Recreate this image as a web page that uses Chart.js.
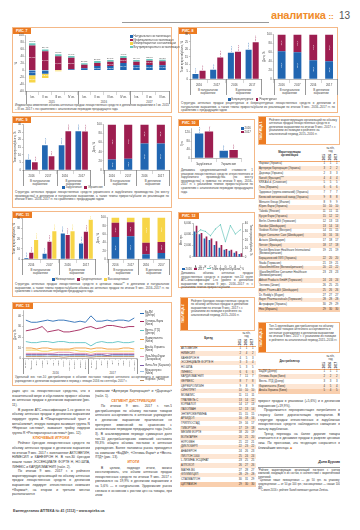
<!DOCTYPE html>
<html lang="ru">
<head>
<meta charset="utf-8">
<title>Аналитика 13</title>
<script src="https://cdn.jsdelivr.net/npm/chart.js@4.4.1/dist/chart.umd.min.js"></script>
<style>
  html, body { margin: 0; padding: 0; }
  body { width: 360px; height: 530px; position: relative; overflow: hidden; background: #fff;
         font-family: "Liberation Sans", Arial, sans-serif; color: #3a3a3a; }
  .box { position: absolute; border: 1px solid #f4b887; box-sizing: border-box; }
  .tag { position: absolute; left: 0; top: 0; height: 6px; padding: 0 3px; background: #ec7b22; color: #fff;
         font: bold 3.6px/6px "Liberation Sans", Arial, sans-serif; }
  .cap { position: absolute; font-size: 3px; line-height: 3.6px; color: #444; text-align: justify; }
  canvas { position: absolute; z-index: 2; }
  .grp { position: absolute; font-size: 2.8px; line-height: 3.1px; text-align: center; color: #444; }
  .sep { position: absolute; width: 0; border-left: 0.5px solid #999; }
  .leg { position: absolute; font-size: 2.8px; line-height: 3.4px; color: #444; white-space: nowrap; z-index: 3; }
  .leg i { display: inline-block; width: 2.6px; height: 2.6px; margin-right: 1px; vertical-align: -0.4px; }
  .leg b { display: inline-block; width: 4px; height: 0; border-top: 0.8px solid; margin-right: 1px; vertical-align: 0.8px; }
  .col { position: absolute; font-size: 3.3px; line-height: 4.65px; text-align: justify; color: #333; overflow: hidden; }
  .col p { margin: 0; text-indent: 6px; }
  .col h4 { margin: 0.5px 0 0.5px; font-size: 3.5px; line-height: 4.65px; color: #ec7b22; font-weight: bold; text-align: center; }
  .tdesc { position: absolute; border: 1px solid #f4b887; box-sizing: border-box; }
  .tdesc .vl { position: absolute; left: 0; top: 0; bottom: 0; width: 7px; background: #ec7b22; color: #fff;
               font: bold 3.3px "Liberation Sans", Arial, sans-serif; writing-mode: vertical-rl;
               transform: rotate(180deg); text-align: center; }
  .tdesc .tx { position: absolute; left: 10px; right: 1.5px; top: 1.5px; font-size: 3px; line-height: 3.55px; color: #444; }
  .tbl { position: absolute; font-size: 2.75px; color: #333; }
  .th { display: flex; border-bottom: 0.6px solid #f0a56b; }
  .th .hn { flex: 1; display: flex; align-items: center; justify-content: center; font-weight: bold; text-align: center; line-height: 3.2px; }
  .th .hv { width: 19px; text-align: center; line-height: 3.2px; }
  .th .hv .yrs { display: flex; justify-content: space-around; margin-top: 1px; }
  .th .hv .yrs span { writing-mode: vertical-rl; transform: rotate(180deg); font-weight: bold; }
  .tr { display: flex; line-height: 3.3px; padding: 0.75px 0; }
  #t2 .tr { padding: 0.7px 0; }
  .tr.odd { background: #fde6d4; }
  .tr.last { background: #f9cfae; }
  .tr .tn { flex: 1; padding-left: 1px; }
  .tr .tv { width: 6.33px; text-align: center; }
</style>
</head>
<body>

<!-- шапка -->
<div style="position:absolute;left:122px;top:22px;width:147px;height:0;border-top:0.8px solid #9a9a9a"></div>
<div style="position:absolute;left:271px;top:9px;font:bold 11px/13px 'Liberation Sans',Arial,sans-serif;color:#f08c2a;letter-spacing:-0.2px">аналитика <span style="font-size:8px">::</span></div>
<div style="position:absolute;left:339px;top:10px;font:10px/12px 'Liberation Sans',Arial,sans-serif;color:#555">13</div>

<!-- рис. 7 -->
<div class="box" style="left:12px;top:27px;width:160px;height:86px"><div class="tag">РИС. 7</div></div>
<canvas id="c7" width="156" height="67" style="left:14px;top:33px"></canvas>
<div class="leg" id="l7" style="left:130px;top:35px"></div>
<div class="cap" style="left:15px;top:104px;width:154px">Индикаторы изменения объема аптечных продаж лекарственных средств в денежном выражении в I кв. 2015 – III кв. 2017 г. по сравнению с аналогичным периодом предыдущего года</div>

<!-- рис. 8 -->
<div class="box" style="left:178px;top:27px;width:160px;height:86px"><div class="tag">РИС. 8</div></div>
<canvas id="c8a" width="82" height="56" style="left:180px;top:32px"></canvas>
<canvas id="c8b" width="76" height="56" style="left:262px;top:32px"></canvas>
<div class="leg" id="l8" style="left:228px;top:98px"></div>
<div class="cap" style="left:181px;top:102px;width:154px">Структура аптечных продаж рецептурных и безрецептурных лекарственных средств в денежном и натуральном выражении, а также темпы прироста/убыли их реализации по итогам 9 мес. 2016–2017 гг. по сравнению с предыдущим годом</div>

<!-- рис. 9 -->
<div class="box" style="left:12px;top:116px;width:160px;height:92px"><div class="tag">РИС. 9</div></div>
<canvas id="c9a" width="78" height="57" style="left:13px;top:122px"></canvas>
<canvas id="c9b" width="78" height="57" style="left:92px;top:122px"></canvas>
<div class="leg" id="l9" style="left:62px;top:186px"></div>
<div class="cap" style="left:15px;top:191px;width:154px">Структура аптечных продаж лекарственных средств украинского и зарубежного производства (по месту производства) в денежном и натуральном выражении, а также темпы прироста/убыли их реализации по итогам 9 мес. 2016–2017 гг. по сравнению с предыдущим годом</div>

<!-- рис. 10 -->
<div class="box" style="left:178px;top:119px;width:77px;height:80px"><div class="tag">РИС. 10</div></div>
<canvas id="c10" width="62" height="41" style="left:180px;top:126px"></canvas>
<div class="leg" id="l10" style="left:241px;top:127px"></div>
<div class="cap" style="left:181px;top:169px;width:72px">Динамика средневзвешенной стоимости 1 упаковки лекарственных средств отечественного и зарубежного производства (по месту производства) в гривнах по итогам 9 мес. 2016–2017 гг. с указанием темпов прироста/убыли по сравнению с аналогичным периодом предыдущего года</div>

<!-- таблица 1 -->
<div class="tdesc" style="left:258px;top:116px;width:82px;height:29px">
  <div class="vl">ТАБЛИЦА 1</div>
  <div class="tx">Рейтинг маркетирующих организаций по объему аптечных продаж лекарственных средств в денежном выражении по итогам 9 мес. 2017 г. с указанием их позиции в рейтинге за аналогичный период 2015–2016 гг.</div>
</div>
<div class="tbl" id="t1" style="left:258px;top:147px;width:82px">
  <div class="th"><div class="hn">Маркетирующая<br>организация</div><div class="hv">№ п/п,<br>год<div class="yrs"><span>2015</span><span>2016</span><span>2017</span></div></div></div>
</div>

<!-- рис. 11 -->
<div class="box" style="left:12px;top:211px;width:160px;height:86px"><div class="tag">РИС. 11</div></div>
<canvas id="c11a" width="84" height="52" style="left:12px;top:216px"></canvas>
<canvas id="c11b" width="74" height="53" style="left:96px;top:215px"></canvas>
<div class="leg" id="l11" style="left:52px;top:278px"></div>
<div class="cap" style="left:15px;top:283px;width:154px">Структура аптечных продаж лекарственных средств в ценовых нишах** в денежном и натуральном выражении, а также темпы прироста/убыли объема их аптечных продаж по итогам 9 мес. 2016–2017 гг. по сравнению с аналогичным периодом предыдущего года</div>

<!-- рис. 12 -->
<div class="box" style="left:178px;top:212px;width:77px;height:76px"><div class="tag">РИС. 12</div></div>
<canvas id="c12" width="75" height="50" style="left:179px;top:219px"></canvas>
<div class="leg" id="l12" style="left:182px;top:267.5px"></div>
<div class="cap" style="left:181px;top:272px;width:72px">Динамика объема аптечных продаж лекарственных средств в разрезе топ-10 групп АТС-классификации 1-го уровня в денежном выражении по итогам 9 мес. 2016–2017 гг. с указанием темпов прироста/убыли</div>

<!-- рис. 13 -->
<div class="box" style="left:12px;top:302px;width:160px;height:84px"><div class="tag">РИС. 13</div></div>
<canvas id="c13" width="125" height="63" style="left:13px;top:308px"></canvas>
<div class="leg" id="l13" style="left:140px;top:311px;white-space:normal;width:31px;line-height:3.1px"></div>
<div class="cap" style="left:15px;top:376px;width:154px">Удельный вес топ-10 дистрибьюторов в объеме поставок товаров аптечного ассортимента в аптечные учреждения в денежном выражении в период с января 2016 по сентябрь 2017 г.</div>

<!-- таблица 2 -->
<div class="tdesc" style="left:180px;top:297px;width:75px;height:34px">
  <div class="vl">ТАБЛИЦА 2</div>
  <div class="tx">Рейтинг брендов лекарственных средств по объему аптечных продаж в денежном выражении по итогам 9 мес. 2017 г. с указанием их позиции в рейтинге за аналогичный период 2015–2016 гг.</div>
</div>
<div class="tbl" id="t2" style="left:180px;top:332px;width:76px">
  <div class="th"><div class="hn">Бренд</div><div class="hv">№ п/п,<br>год<div class="yrs"><span>2015</span><span>2016</span><span>2017</span></div></div></div>
</div>

<!-- таблица 3 -->
<div class="tdesc" style="left:258px;top:322px;width:82px;height:31px">
  <div class="vl">ТАБЛИЦА 3</div>
  <div class="tx">Топ-5 крупнейших дистрибьюторов по объему поставок товаров аптечного ассортимента в аптечные учреждения в денежном выражении по итогам 9 мес. 2017 г. с указанием их позиции в рейтинге за аналогичный период 2015–2016 гг.</div>
</div>
<div class="tbl" id="t3" style="left:258px;top:355px;width:82px">
  <div class="th"><div class="hn">Дистрибьютор</div><div class="hv">№ п/п,<br>год<div class="yrs"><span>2015</span><span>2016</span><span>2017</span></div></div></div>
</div>

<!-- текст -->
<div class="col" style="left:12px;top:389px;width:78px;height:117px">
  <p style="text-indent:0">ущих цен на лекарственные средства, что в значительной мере и обусловило прирост объема их аптечных продаж в денежном выражении (рис. 11).</p>
  <p>В разрезе АТС-классификации 1-го уровня по объему аптечных продаж в денежном выражении лидирует группа A «Пищеварительный тракт и метаболизм», вторую позицию занимает группа N «Нервная система», замыкает тройку лидеров группа R «Респираторная система» (рис. 12).</p>
  <h4>КЛЮЧЕВЫЕ ИГРОКИ</h4>
  <p>Рейтинг брендов лекарственных средств по объему аптечных продаж в денежном выражении по итогам 9 мес. 2017 г. возглавляют АКТОВЕГИН, НИМЕСИЛ и КАНЕФРОН Н. В топ-30 брендов вошли также ЭССЕНЦИАЛЕ ФОРТЕ Н, НО-ШПА, ЛИНЕКС и КАРДИОМАГНИЛ (табл. 2).</p>
  <p>По итогам 9 мес. 2017 г. в рейтинге маркетирующих организаций по объему аптечных продаж лекарственных средств в денежном выражении лидирует отечественная компания «Фармак», на втором и третьем местах располагаются</p>
</div>
<div class="col" style="left:95px;top:389px;width:77px;height:117px">
  <p style="text-indent:0">компании «Артериум Корпорация» и «Дарница» (табл. 1).</p>
  <h4>СЕГМЕНТ ДИСТРИБУЦИИ</h4>
  <p>По итогам 9 мес. 2017 г. топ-5 дистрибьюторов по объему поставок товаров аптечного ассортимента в аптечные учреждения в денежном выражении практически не претерпел изменений по сравнению с аналогичным периодом предыдущего года (табл. 3). В анализируемом периоде суммарная доля топ-10 дистрибьюторских компаний составила 93,3% общего объема поставок в аптечные учреждения. Более половины рынка приходится на компании «БаДМ», «Оптима-Фарм» и «Вента. ЛТД» (рис. 13).</p>
  <h4>ИТОГИ</h4>
  <p>В целом, подводя итоги, можно констатировать, что объем аптечных продаж лекарственных средств по итогам 9 мес. 2017 г. увеличился на 19,9% в денежном выражении и на 5,6% — в натуральном. Удорожание рынка связано в основном с ростом цен на товары, при этом</p>
</div>
<div class="col" style="left:258px;top:399px;width:82px;height:60px">
  <p style="text-indent:0">прирост продаж в упаковках (+5,6%) и в денежном выражении (+19,9%).</p>
  <p>Продолжается переориентация потребителя в сторону более дорогостоящих препаратов. В структуре продаж отечественных и зарубежных лекарственных средств наблюдается смещение в пользу зарубежных.</p>
  <p>Тренд перехода на более дорогие товары отмечается и в динамике продаж в разрезе ценовых ниш. По прогнозам, эта тенденция сохранится в ближайшие месяцы. <span style="color:#ec7b22">■</span></p>
</div>
<div style="position:absolute;left:300px;top:460px;width:40px;text-align:right;font:italic bold 3.4px 'Liberation Sans',Arial,sans-serif;color:#333">Дина Бурова</div>
<div class="col" style="left:258px;top:467px;width:82px;height:34px;font-size:2.6px;line-height:3.4px;border-top:0.5px solid #999;padding-top:1px">
  <p style="text-indent:0">*Рейтинг маркетирующих организаций построен с учетом компаний, входящих в их состав, в соответствии с маркетинговой политикой.</p>
  <p style="text-indent:0">**Ценовые ниши: низкоценовая — до 50 грн. за упаковку; среднеценовая — от 50 до 100 грн.; высокоценовая — свыше 100 грн.</p>
  <p style="text-indent:0">***С июля 2016 г. рейтинг Sanofi включает данные Zentiva.</p>
</div>
<div style="position:absolute;left:13px;top:509px;font:bold 3.6px 'Liberation Sans',Arial,sans-serif;color:#444">Еженедельник АПТЕКА № 41 (1112) ▪ www.apteka.ua</div>

<script>
// рис. 7 — индикаторы изменения объема продаж, %
const quarters7 = ['I кв.', 'II кв.', 'III кв.', 'IV кв.', 'I кв.', 'II кв.', 'III кв.', 'IV кв.', 'I кв.', 'II кв.', 'III кв.'];
const years7 = ['2015', '2016', '2017'];
const series7 = ['Натуральная составляющая', 'Инфляционная составляющая', 'Межпрепаратная составляющая', 'Внутрипрепаратная составляющая'];
const natural7 = [-14.6, -10.2, 0, 3.1, 5.4, 12.3, 12.1, 20.4, 14.2, 15.3, 14.1];
const inflation7 = [71.3, 54.6, 40.2, 32.8, 10.1, 8.2, 11.9, 15.1, 10.3, 12.2, 11.4];
const substitution7 = [-20.8, -12.1, -3.2, 0, 0, 0, 0, 0, 0, 0, 0];
const assortment7 = [6.2, 5.1, 5.8, 5.2, 4.8, 6.0, 5.1, 5.2, 4.9, 5.1, 4.8];

// рис. 8, 9, 11 — общие подписи
const years4 = ['2016', '2017', '2016', '2017'];
const groups4 = ['В натуральном<br>выражении', 'В денежном<br>выражении'];

// рис. 8 — рецептурные / безрецептурные
const series8 = ['Безрецептурные', 'Рецептурные'];
const growthOtc8 = [3.4, 6.2, 17.7, 19.8];
const growthRx8 = [5.5, 14.5, 18.3, 24.7];
const shareOtc8 = [62.1, 60.3, 42.4, 40.2];
const shareRx8 = [37.9, 39.7, 57.6, 59.8];

// рис. 9 — зарубежные / украинские
const series9 = ['Зарубежные', 'Украинские'];
const growthForeign9 = [6.8, 16.4, 16.4, 25.5];
const growthLocal9 = [5.2, 9.0, 25.5, 25.3];
const shareForeign9 = [23.1, 25.0, 58.2, 58.4];
const shareLocal9 = [76.9, 75.0, 41.8, 41.6];

// рис. 10 — стоимость 1 упаковки, грн.
const origin10 = ['Зарубежные', 'Украинские'];
const series10 = ['2016', '2017'];
const cost2016 = [116.4, 34.2];
const cost2017 = [125.5, 38.6];

// рис. 11 — ценовые ниши
const series11 = ['Низкоценовые', 'Среднеценовые', 'Высокоценовые'];
const growthLow11 = [1.0, 5.3, 25.3, 15.3];
const growthMid11 = [6.3, 17.0, 23.7, 27.0];
const growthHigh11 = [18.7, 27.3, 27.3, 38.7];
const shareLow11 = [53.2, 55.1, 11.4, 14.8];
const shareMid11 = [34.1, 33.2, 28.0, 26.3];
const shareHigh11 = [12.7, 11.7, 60.6, 58.9];

// рис. 12 — топ-10 групп АТС, млн грн.
const atc12 = ['A', 'N', 'R', 'C', 'M', 'J', 'G', 'D', 'B', 'L'];
const series12 = ['2016', '2017', 'Темп прироста/убыли, %'];
const sales2016_12 = [4500, 4000, 3250, 3000, 2100, 1600, 1250, 1100, 750, 500];
const sales2017_12 = [5500, 4250, 3600, 3250, 2750, 2100, 1400, 1250, 1000, 650];
const growth12 = [27, 32, 30, 25, 33, 38, 18, 37, 27, 32];

// рис. 13 — доля дистрибьюторов, %
const months13 = ['Январь', 'Февраль', 'Март', 'Апрель', 'Май', 'Июнь', 'Июль', 'Август', 'Сентябрь', 'Октябрь', 'Ноябрь', 'Декабрь',
  'Январь', 'Февраль', 'Март', 'Апрель', 'Май', 'Июнь', 'Июль', 'Август', 'Сентябрь'];
const years13 = ['2016', '2017'];
const distributors13 = ['БаДМ<br>(Днепр)', 'Оптима-Фарм (Киев)', 'Вента. ЛТД<br>(Днепр)', 'Фармпланета (Киев)', 'Альба Украина (Киев)',
  'Фра-Мед-Фарм<br>(Запорожье)', 'Фито-Лек (Харьков)', 'Медэкспресс<br>(Киев)', 'Форлекс (Киев)'];
const badm13 = [36, 34, 34, 35, 36, 35, 36, 36, 35, 34, 35, 34, 40, 35, 35, 36, 35, 36, 36, 35, 38];
const optima13 = [26, 27, 28, 30, 25, 26, 27, 25, 25, 26, 27, 29, 30, 28, 29, 31, 31, 30, 29, 30, 30];
const venta13 = [16, 15, 15, 16, 16, 15, 16, 16, 15, 15, 15, 15, 12, 15, 16, 15, 15, 16, 15, 15, 16];
const farmplaneta13 = [10, 10, 9, 10, 10, 9, 9, 9, 9, 10, 10, 10, 9, 10, 10, 9, 9, 9, 10, 10, 9];
const alba13 = [8, 8, 8, 7, 7, 8, 8, 8, 8, 8, 7, 7, 6, 7, 7, 7, 7, 7, 7, 7, 7];
const framed13 = [5, 5, 5, 5, 5, 5, 6, 6, 6, 5, 5, 5, 4, 5, 5, 5, 5, 5, 5, 5, 5];
const fitolek13 = [4, 4, 4, 4, 4, 4, 4, 4, 4, 4, 4, 4, 3, 4, 4, 3, 4, 4, 4, 4, 4];
const medexpress13 = [3, 3, 3, 3, 2.5, 3, 3, 3, 3, 3, 3, 3, 2.5, 3, 3, 3, 3, 3, 3, 3, 3];
const forleks13 = [2, 2, 2, 2, 2, 2, 2, 1.5, 2, 2, 2, 2, 1.5, 2, 2, 2, 2, 2, 2, 2, 2];

// таблица 1
const marketers = ['Фармак (Украина)', 'Артериум Корпорация (Украина)', 'Дарница (Украина)', 'Sanofi (Франция)***', 'KRKA d.d. (Словения)',
  'Teva (Израиль)', 'Здоровье (группа компаний) (Украина)', 'Киевский витаминный завод (Украина)', 'Menarini Group (Италия)',
  'Юрия-Фарм (Украина)', 'Takeda (Япония)', 'Кусум Фарм (Украина)', 'Berlin-Chemie AG (Германия)', 'Sandoz (Швейцария)',
  'Gedeon Richter (Венгрия)', 'Bayer Consumer Care (Швейцария)', 'Actavis (Швейцария)', 'Servier (Франция)',
  'Reckitt Benckiser Healthcare International (Великобритания)', 'Борщаговский ХФЗ (Украина)', 'Stada (Германия)',
  'GlaxoSmithKline (Великобритания)', 'GlaxoSmithKline Consumer Healthcare (Великобритания)', 'Abbott Products GmbH (Германия)',
  'Зентива (Чехия)', 'Alpen Pharma AG (Швейцария)', 'Dr. Reddy\'s (Индия)', 'Bayer Pharmaceuticals (Германия)', 'Астрафарм (Украина)', 'Нео (Израиль)'];
const rank2015_t1 = [1, 3, 2, 4, 5, 6, 7, 9, 8, 10, 11, 15, 12, 13, 14, 16, 17, 18, 19, 22, 21, 20, 23, 24, 26, 25, 27, 28, 30, 29];
const rank2016_t1 = [1, 2, 3, 4, 5, 6, 7, 8, 9, 10, 11, 12, 13, 14, 15, 16, 18, 17, 21, 20, 19, 22, 23, 24, 25, 26, 27, 28, 29, 30];
const rank2017_t1 = [1, 2, 3, 4, 5, 6, 7, 8, 9, 10, 11, 12, 13, 14, 15, 16, 17, 18, 19, 20, 21, 22, 23, 24, 25, 26, 27, 28, 29, 30];

// таблица 2
const brands = ['АКТОВЕГИН', 'НИМЕСИЛ', 'КАНЕФРОН Н', 'ЭССЕНЦИАЛЕ ФОРТЕ Н', 'НО-ШПА', 'ЛИНЕКС', 'КАРДИОМАГНИЛ', 'ФЕРВЕКС',
  'ЦЕРЕБРОЛИЗИН', 'СИНУПРЕТ', 'МОВАЛИС', 'ТРАУМЕЛЬ С', 'КОРВАЛОЛ', 'ЛАЗОЛВАН', 'ЭНТЕРОЖЕРМИНА', 'АРБИДОЛ', 'ГРИППОСТАД',
  'ТИВОРТИН', 'МЕЗИМ ФОРТЕ', 'ВОЛЬТАРЕН', 'НУРОФЕН', 'ДИКЛОБЕРЛ', 'АНАФЕРОН', 'ЛИОТОН 1000', 'L-ЛИЗИНА ЭСЦИНАТ', 'АЛЛОХОЛ',
  'МАГНЕ-B6', 'ФЛУИМУЦИЛ', 'СПАЗМАЛГОН', 'ЦИТРАМОН'];
const rank2015_t2 = [1, 2, 4, 3, 5, 6, 7, 8, 9, 10, 11, 13, 14, 12, 15, 16, 19, 17, 18, 20, 21, 22, 24, 25, 23, 26, 27, 28, 30, 29];
const rank2016_t2 = [1, 4, 5, 3, 3, 6, 11, 7, 8, 10, 11, 14, 17, 13, 15, 18, 16, 19, 20, 21, 22, 23, 26, 24, 25, 27, 28, 29, 31, 30];
const rank2017_t2 = [1, 2, 3, 4, 5, 6, 7, 8, 9, 10, 11, 12, 13, 14, 15, 16, 17, 18, 19, 20, 21, 22, 23, 24, 25, 26, 27, 28, 29, 30];

// таблица 3
const distributors_t3 = ['БаДМ (Днепр)', 'Оптима-Фарм (Киев)', 'Вента. ЛТД (Днепр)', 'Фармпланета (Киев)', 'Альба Украина (Киев)'];
const rank2015_t3 = [1, 2, 3, 4, 5];
const rank2016_t3 = [1, 2, 3, 5, 4];
const rank2017_t3 = [1, 2, 3, 4, 5];

const BLUE = '#2166b1', CRIMSON = '#9d1e50', YELLOW = '#f7d548', TEAL = '#6cc7bd';
const LINE_COLORS = ['#2a6db5', '#a3245a', '#5fc3c4', '#f29b3d', '#f4d24e', '#e58fab', '#7c5ba8', '#97bde3', '#b98a5c'];

Chart.defaults.font.family = '"Liberation Sans", Arial, sans-serif';
Chart.defaults.font.size = 3;
Chart.defaults.color = '#444';

function fmtVal(v, f) {
  const s = Math.abs(v).toFixed(f === 'int' ? 0 : 1).replace('.', ',');
  const sign = v < 0 ? '-' : (f === 'spct' || f === 'sdec') ? '+' : '';
  return sign + s + (f.indexOf('pct') >= 0 ? '%' : '');
}

// подписи значений на столбцах
const valueLabels = {
  id: 'valueLabels',
  afterDatasetsDraw(chart, args, opts) {
    if (!opts || !opts.show) return;
    const ctx = chart.ctx;
    ctx.save();
    ctx.font = (opts.size || 2.5) + 'px "Liberation Sans", Arial, sans-serif';
    chart.data.datasets.forEach((ds, i) => {
      const meta = chart.getDatasetMeta(i);
      if (meta.type !== 'bar') return;
      meta.data.forEach((el, j) => {
        const v = ds.data[j];
        if (!v) return;
        const txt = fmtVal(v, opts.fmt || 'dec');
        if (opts.mode === 'inside') {
          if (Math.abs(el.base - el.y) < (opts.minH || 4)) return;
          ctx.fillStyle = '#fff';
          ctx.textAlign = 'center'; ctx.textBaseline = 'middle';
          const y = (el.y + el.base) / 2;
          if (opts.rotate) { ctx.save(); ctx.translate(el.x, y); ctx.rotate(-Math.PI / 2); ctx.fillText(txt, 0, 0); ctx.restore(); }
          else ctx.fillText(txt, el.x, y);
        } else {
          ctx.fillStyle = ds.backgroundColor;
          if (opts.rotate) {
            ctx.save(); ctx.translate(el.x, el.y - 0.8); ctx.rotate(-Math.PI / 2);
            ctx.textAlign = 'left'; ctx.textBaseline = 'middle'; ctx.fillText(txt, 0, 0); ctx.restore();
          } else {
            ctx.textAlign = 'center'; ctx.textBaseline = v < 0 ? 'top' : 'bottom';
            ctx.fillText(txt, el.x, v < 0 ? el.y + 0.5 : el.y - 0.5);
          }
        }
      });
    });
    if (opts.total) {
      ctx.fillStyle = '#444'; ctx.textAlign = 'center'; ctx.textBaseline = 'bottom';
      chart.data.labels.forEach((l, j) => {
        let sum = 0, top = Infinity, x = 0;
        chart.data.datasets.forEach((ds, i) => {
          const el = chart.getDatasetMeta(i).data[j];
          sum += ds.data[j];
          if (ds.data[j] > 0 && el.y < top) { top = el.y; x = el.x; }
        });
        if (top < Infinity) ctx.fillText(fmtVal(sum, 'pct'), x, top - 0.5);
      });
    }
    ctx.restore();
  }
};
Chart.register(valueLabels);

function yLin(min, max, step, title, extra) {
  return Object.assign({
    min, max,
    ticks: { stepSize: step, font: { size: 2.8 }, padding: 0.8 },
    grid: { drawOnChartArea: false, tickLength: 1.2, color: '#777', lineWidth: 0.4 },
    border: { color: '#777', width: 0.5 },
    title: title ? { display: true, text: title, font: { size: 2.7 }, padding: 0.5 } : { display: false }
  }, extra || {});
}

function xCat(extra) {
  return Object.assign({
    ticks: { font: { size: 2.8 }, padding: 0.8, autoSkip: false, maxRotation: 0 },
    grid: { drawOnChartArea: false, offset: true, tickLength: 4, color: '#999', lineWidth: 0.4 },
    border: { color: '#777', width: 0.5 }
  }, extra || {});
}

function baseOpts(scales, plugins, padding) {
  return {
    responsive: false, animation: false, devicePixelRatio: 1,
    layout: { padding: padding || { top: 2, right: 1, bottom: 0, left: 0 } },
    scales: scales,
    plugins: Object.assign({ legend: { display: false }, tooltip: { enabled: false } }, plugins || {})
  };
}

function bars(list, colors, bp) {
  return list.map((d, i) => ({ type: 'bar', data: d, backgroundColor: colors[i], borderWidth: 0,
    barPercentage: bp || 0.8, categoryPercentage: 0.8 }));
}

// подписи групп под осью X
function placeGroups(chart, groups, dy, lineLen) {
  const x = chart.scales.x, c = chart.canvas;
  const left = c.offsetLeft, top = c.offsetTop;
  const slot = x.width / x.ticks.length;
  groups.forEach(g => {
    const a = x.getPixelForValue(g.from) - slot / 2, b = x.getPixelForValue(g.to) + slot / 2;
    const d = document.createElement('div');
    d.className = 'grp';
    d.style.left = (left + a) + 'px'; d.style.width = (b - a) + 'px';
    d.style.top = (top + x.bottom + dy) + 'px';
    d.innerHTML = g.text;
    document.body.appendChild(d);
    [a, b].forEach(p => {
      const s = document.createElement('div');
      s.className = 'sep';
      s.style.left = (left + p) + 'px'; s.style.top = (top + x.top) + 'px';
      s.style.height = (x.bottom - x.top + lineLen) + 'px';
      document.body.appendChild(s);
    });
  });
}

function legend(id, names, colors, kind) {
  document.getElementById(id).innerHTML = names.map((n, i) => {
    const k = Array.isArray(kind) ? kind[i] : kind;
    const mark = k === 'line' ? `<b style="border-color:${colors[i]}"></b>` : `<i style="background:${colors[i]}"></i>`;
    return `<span style="margin-right:2.5px">${mark}${n}</span>`;
  }).join('');
}

function growthChart(id, series, colors, max, step) {
  const ch = new Chart(document.getElementById(id), {
    type: 'bar',
    data: { labels: years4, datasets: bars(series, colors, 0.85) },
    options: baseOpts({ x: xCat(), y: yLin(0, max, step, 'Темп прироста/убыли, %') },
      { valueLabels: { show: true, mode: 'top', rotate: true, fmt: 'sdec', size: 2.4 } })
  });
  placeGroups(ch, [{ text: groups4[0], from: 0, to: 1 }, { text: groups4[1], from: 2, to: 3 }], 0.5, 7);
  return ch;
}

function shareChart(id, series, colors) {
  const ch = new Chart(document.getElementById(id), {
    type: 'bar',
    data: { labels: years4, datasets: bars(series, colors, 0.62) },
    options: baseOpts({ x: xCat({ stacked: true }), y: yLin(0, 100, 10, 'Доля, %', { stacked: true }) },
      { valueLabels: { show: true, mode: 'inside', rotate: true, fmt: 'dec', size: 2.4, minH: 6 } })
  });
  placeGroups(ch, [{ text: groups4[0], from: 0, to: 1 }, { text: groups4[1], from: 2, to: 3 }], 0.5, 7);
  return ch;
}

// рис. 13 (строится первым, со своими настройками осей)
const lines13 = [badm13, optima13, venta13, farmplaneta13, alba13, framed13, fitolek13, medexpress13, forleks13];
const c13 = new Chart(document.getElementById('c13'), {
  type: 'line',
  data: {
    labels: months13,
    datasets: lines13.map((d, i) => ({ data: d, borderColor: LINE_COLORS[i], borderWidth: 0.9, pointRadius: 0 }))
  },
  options: {
    responsive: false, animation: false, devicePixelRatio: 1,
    layout: { padding: { top: 2, right: 1, bottom: 0, left: 0 } },
    plugins: { legend: { display: false }, tooltip: { enabled: false } },
    scales: {
      x: { offset: true, ticks: { font: { size: 2.3 }, padding: 0.5, autoSkip: false, maxRotation: 90, minRotation: 90 },
           grid: { drawOnChartArea: false, offset: true, tickLength: 1, color: '#777', lineWidth: 0.4 }, border: { color: '#777', width: 0.5 } },
      y: { min: 0, max: 45, ticks: { stepSize: 5, font: { size: 2.8 }, padding: 0.8 },
           grid: { drawOnChartArea: false, tickLength: 1.2, color: '#777', lineWidth: 0.4 }, border: { color: '#777', width: 0.5 },
           title: { display: true, text: 'Доля, %', font: { size: 2.7 }, padding: 0.5 } }
    }
  }
});
placeGroups(c13, [{ text: years13[0], from: 0, to: 11 }, { text: years13[1], from: 12, to: 20 }], 0.5, 3);
document.getElementById('l13').innerHTML = distributors13.map((n, i) =>
  `<div style="display:flex;margin-bottom:2.6px"><b style="display:block;flex:none;width:4px;border-top:0.8px solid ${LINE_COLORS[i]};margin:1.5px 1px 0 0"></b><span>${n}</span></div>`).join('');

// рис. 7
const c7 = new Chart(document.getElementById('c7'), {
  type: 'bar',
  data: { labels: quarters7, datasets: bars([natural7, inflation7, substitution7, assortment7], [BLUE, CRIMSON, YELLOW, TEAL], 0.62) },
  options: baseOpts({
    x: xCat({ stacked: true }),
    y: yLin(-60, 100, 20, '%', { stacked: true })
  }, { valueLabels: { show: true, mode: 'inside', fmt: 'pct', size: 2.3, minH: 4, total: true } })
});
placeGroups(c7, [{ text: years7[0], from: 0, to: 3 }, { text: years7[1], from: 4, to: 7 }, { text: years7[2], from: 8, to: 10 }], 0.6, 4);
document.getElementById('l7').innerHTML = series7.map((n, i) =>
  `<div><i style="background:${[BLUE, CRIMSON, YELLOW, TEAL][i]}"></i>${n}</div>`).join('');

// рис. 8
growthChart('c8a', [growthOtc8, growthRx8], [BLUE, CRIMSON], 30, 5);
shareChart('c8b', [shareOtc8, shareRx8], [BLUE, CRIMSON]);
legend('l8', series8, [BLUE, CRIMSON], 'box');

// рис. 9
growthChart('c9a', [growthForeign9, growthLocal9], [BLUE, CRIMSON], 30, 5);
shareChart('c9b', [shareForeign9, shareLocal9], [BLUE, CRIMSON]);
legend('l9', series9, [BLUE, CRIMSON], 'box');

// рис. 10
new Chart(document.getElementById('c10'), {
  type: 'bar',
  data: { labels: origin10, datasets: bars([cost2016, cost2017], [BLUE, CRIMSON], 0.85) },
  options: baseOpts({ x: xCat(), y: yLin(0, 140, 20, 'Грн.') },
    { valueLabels: { show: true, mode: 'top', rotate: true, fmt: 'dec', size: 2.4 } })
});
document.getElementById('l10').innerHTML = series10.map((n, i) =>
  `<div><i style="background:${[BLUE, CRIMSON][i]}"></i>${n}</div>`).join('');

// рис. 11
growthChart('c11a', [growthLow11, growthMid11, growthHigh11], [BLUE, CRIMSON, YELLOW], 40, 5);
shareChart('c11b', [shareLow11, shareMid11, shareHigh11], [BLUE, CRIMSON, YELLOW]);
legend('l11', series11, [BLUE, CRIMSON, YELLOW], 'box');

// рис. 12
new Chart(document.getElementById('c12'), {
  type: 'bar',
  data: {
    labels: atc12,
    datasets: [
      { type: 'line', data: growth12, yAxisID: 'y2', borderColor: TEAL, borderWidth: 0.7, pointRadius: 0.6,
        pointBackgroundColor: TEAL, pointBorderWidth: 0, tension: 0 },
      ...bars([sales2016_12, sales2017_12], [BLUE, CRIMSON], 0.85)
    ]
  },
  options: baseOpts({
    x: xCat({ grid: { display: false }, ticks: { font: { size: 2.6 }, padding: 0.5, autoSkip: false, maxRotation: 0 } }),
    y: yLin(0, 6000, 1000, 'Млн грн.'),
    y2: yLin(0, 40, 5, 'Темп прироста/убыли, %', { position: 'right' })
  })
});
legend('l12', series12, [BLUE, CRIMSON, TEAL], ['box', 'box', 'line']);

// таблицы
function fillTable(id, names, a, b, c) {
  const el = document.getElementById(id);
  names.forEach((n, i) => {
    const row = document.createElement('div');
    row.className = 'tr' + (i % 2 ? ' odd' : '') + (i === names.length - 1 ? ' last' : '');
    row.innerHTML = `<span class="tn">${n}</span><span class="tv">${a[i]}</span><span class="tv">${b[i]}</span><span class="tv">${c[i]}</span>`;
    el.appendChild(row);
  });
}
fillTable('t1', marketers, rank2015_t1, rank2016_t1, rank2017_t1);
fillTable('t2', brands, rank2015_t2, rank2016_t2, rank2017_t2);
fillTable('t3', distributors_t3, rank2015_t3, rank2016_t3, rank2017_t3);
</script>
</body>
</html>
